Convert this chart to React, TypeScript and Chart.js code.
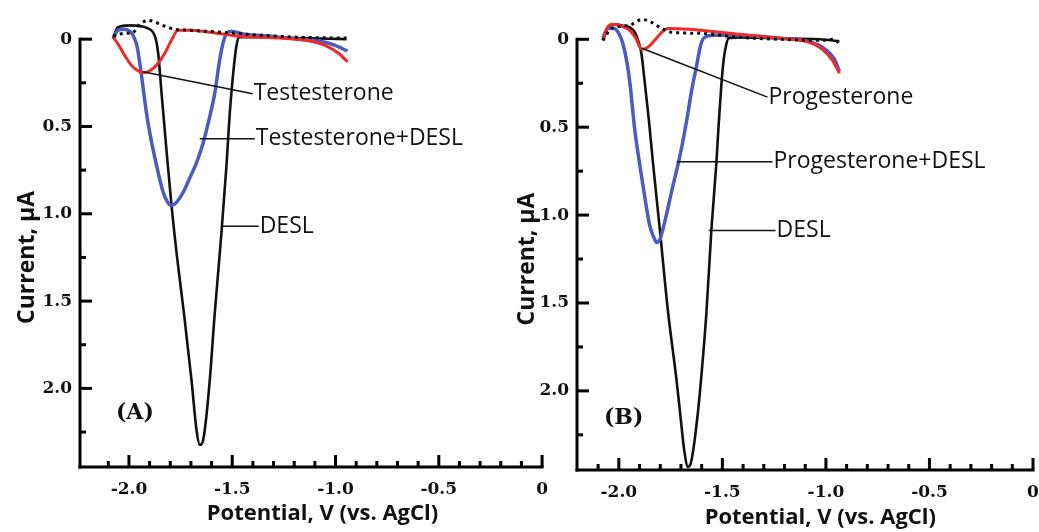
import React, { useEffect, useRef } from "react";
import { Chart, registerables } from "chart.js";
Chart.register(...registerables);

// ---------- axis ticks ----------
const X_MAJOR = [-2.0, -1.5, -1.0, -0.5, 0];
const X_MINOR = [-2.1, -1.9, -1.8, -1.7, -1.6, -1.4, -1.3, -1.2, -1.1, -0.9, -0.8, -0.7, -0.6, -0.4, -0.3, -0.2, -0.1];
const X_TICK_LABELS = ["-2.0", "-1.5", "-1.0", "-0.5", "0"];
const Y_MAJOR = [0, 0.5, 1.0, 1.5, 2.0];
const Y_MINOR = [0.25, 0.75, 1.25, 1.75, 2.25];
const Y_TICK_LABELS = ["0", "0.5", "1.0", "1.5", "2.0"];

// ---------- Panel A ----------
const A_BLANK_V = [-2.077, -2.019, -1.986, -1.947, -1.908, -1.870, -1.826, -1.778, -1.705, -1.560, -1.367, -1.174, -0.947];
const A_BLANK_I = [-0.017, -0.034, -0.034, -0.085, -0.108, -0.096, -0.074, -0.057, -0.051, -0.040, -0.023, -0.011, -0.006];

const A_TES_V = [-2.077, -2.053, -2.019, -1.986, -1.957, -1.932, -1.899, -1.865, -1.826, -1.792, -1.763, -1.705, -1.609, -1.464, -1.271, -1.126, -1.043, -0.981, -0.942];
const A_TES_I = [-0.011, 0.028, 0.096, 0.153, 0.181, 0.193, 0.181, 0.147, 0.079, 0.0, -0.051, -0.051, -0.040, -0.017, -0.006, 0.011, 0.040, 0.085, 0.130];

const A_MIX_V = [-2.077, -2.053, -2.024, -1.995, -1.976, -1.961, -1.947, -1.931, -1.915, -1.899, -1.866, -1.834, -1.812, -1.792, -1.768, -1.738, -1.705, -1.673, -1.641, -1.609, -1.585, -1.560, -1.541, -1.527, -1.507, -1.440, -1.319, -1.174, -1.077, -1.005, -0.942];
const A_MIX_I = [0.0, -0.051, -0.057, -0.045, -0.011, 0.040, 0.142, 0.283, 0.425, 0.538, 0.725, 0.878, 0.935, 0.952, 0.932, 0.878, 0.793, 0.708, 0.595, 0.444, 0.312, 0.113, 0.006, -0.034, -0.045, -0.028, -0.017, 0.0, 0.011, 0.034, 0.068];

const A_DESL_V = [-2.077, -2.053, -1.995, -1.908, -1.884, -1.870, -1.858, -1.842, -1.818, -1.794, -1.766, -1.733, -1.697, -1.673, -1.657, -1.645, -1.633, -1.609, -1.585, -1.552, -1.528, -1.520, -1.512, -1.500, -1.488, -1.478, -1.469, -1.367, -1.174, -0.947];
const A_DESL_I = [-0.011, -0.068, -0.079, -0.062, -0.040, 0.0, 0.085, 0.312, 0.640, 0.952, 1.260, 1.577, 1.955, 2.238, 2.323, 2.312, 2.238, 1.955, 1.575, 1.105, 0.725, 0.572, 0.425, 0.255, 0.113, 0.028, -0.011, -0.011, -0.006, 0.0];

// ---------- Panel B ----------
const B_BLANK_V = [-2.077, -2.034, -1.986, -1.937, -1.889, -1.851, -1.802, -1.745, -1.610, -1.417, -1.224, -1.031, -0.959, -0.935];
const B_BLANK_I = [0.006, -0.062, -0.074, -0.085, -0.113, -0.102, -0.068, -0.040, -0.034, -0.011, 0.0, 0.006, 0.0, 0.028];

const B_PRO_V = [-2.077, -2.058, -2.029, -1.986, -1.947, -1.918, -1.889, -1.860, -1.827, -1.793, -1.764, -1.658, -1.513, -1.320, -1.176, -1.080, -1.017, -0.969, -0.935];
const B_PRO_I = [0.006, -0.062, -0.085, -0.074, -0.051, -0.006, 0.057, 0.045, 0.006, -0.040, -0.062, -0.057, -0.040, -0.017, 0.0, 0.017, 0.057, 0.119, 0.193];

const B_MIX_V = [-2.077, -2.053, -2.024, -2.0, -1.981, -1.961, -1.947, -1.923, -1.904, -1.884, -1.851, -1.831, -1.817, -1.802, -1.778, -1.740, -1.706, -1.672, -1.648, -1.624, -1.605, -1.586, -1.537, -1.417, -1.224, -1.104, -1.017, -0.959, -0.935];
const B_MIX_I = [-0.006, -0.062, -0.062, -0.034, 0.023, 0.130, 0.244, 0.516, 0.674, 0.827, 1.059, 1.127, 1.156, 1.139, 1.037, 0.839, 0.669, 0.459, 0.289, 0.147, 0.034, -0.011, -0.023, -0.023, -0.006, 0.006, 0.045, 0.113, 0.181];

const B_DESL_V = [-2.077, -2.053, -2.019, -1.986, -1.947, -1.923, -1.904, -1.891, -1.875, -1.855, -1.835, -1.802, -1.762, -1.722, -1.701, -1.684, -1.666, -1.653, -1.642, -1.627, -1.610, -1.577, -1.553, -1.529, -1.518, -1.505, -1.494, -1.482, -1.470, -1.417, -1.224, -1.031, -0.935];
const B_DESL_I = [0.006, -0.068, -0.085, -0.079, -0.068, -0.040, 0.017, 0.081, 0.242, 0.459, 0.704, 1.082, 1.554, 1.932, 2.159, 2.340, 2.432, 2.414, 2.347, 2.215, 2.027, 1.554, 1.082, 0.704, 0.487, 0.261, 0.119, 0.034, -0.006, -0.011, -0.006, 0.0, 0.011];

const BLACK = "#111111";
const RED = "#ee2a2a";
const BLUE = "#4b5cbd";

const pts = (xs: number[], ys: number[]) => xs.map((x, i) => ({ x, y: ys[i] }));

const axesPlugin = {
  id: "customAxes",
  afterDraw(chart: any) {
    const opts = chart.options.plugins.customAxes;
    const ctx: CanvasRenderingContext2D = chart.ctx;
    const xs = chart.scales.x;
    const ys = chart.scales.y;
    const ca = chart.chartArea;
    const L = ca.left;
    const B = ca.bottom;
    ctx.save();
    ctx.fillStyle = "#000000";
    const y0 = ys.getPixelForValue(0);
    const xEnd = xs.getPixelForValue(0);
    // axis lines
    ctx.fillRect(L - 1.5, y0 - 1.5, 3, B - y0 + 3);
    ctx.fillRect(L - 1.5, B - 1.5, xEnd - L + 3, 3);
    // ticks (pointing into the plot)
    Y_MAJOR.forEach((v) => { const p = ys.getPixelForValue(v); ctx.fillRect(L, p - 1.5, 12, 3); });
    Y_MINOR.forEach((v) => { const p = ys.getPixelForValue(v); ctx.fillRect(L, p - 1.5, 6, 3); });
    X_MAJOR.forEach((v) => { const p = xs.getPixelForValue(v); ctx.fillRect(p - 1.5, B - 12, 3, 12); });
    X_MINOR.forEach((v) => { const p = xs.getPixelForValue(v); ctx.fillRect(p - 1.5, B - 6, 3, 6); });

    // axis titles
    ctx.fillStyle = "#111111";
    ctx.strokeStyle = "#111111";
    ctx.font = "bold 22px 'Open Sans'";
    ctx.textAlign = "center";
    ctx.textBaseline = "middle";
    ctx.fillText(opts.xTitle, xs.getPixelForValue(opts.xTitleAt), B + opts.xTitleOffset);
    ctx.save();
    ctx.translate(opts.yTitleX, ys.getPixelForValue(opts.yTitleAt));
    ctx.rotate(-Math.PI / 2);
    ctx.font = "bold 23px 'Open Sans'";
    ctx.fillText(opts.yTitle, 0, 0);
    ctx.restore();

    // leader lines and labels
    ctx.lineWidth = 1.5;
    ctx.textAlign = "left";
    (opts.notes || []).forEach((n: any) => {
      const tx = xs.getPixelForValue(n.x);
      const ty = ys.getPixelForValue(n.y);
      if (n.from) {
        ctx.beginPath();
        ctx.moveTo(xs.getPixelForValue(n.from[0]), ys.getPixelForValue(n.from[1]));
        ctx.lineTo(tx, ty);
        ctx.stroke();
      }
      ctx.font = n.font;
      ctx.fillText(n.text, tx + 1, ty);
    });
    ctx.restore();
  },
};

type PanelProps = {
  left: number;
  width: number;
  padTop: number;
  padRight: number;
  yWidth: number;
  xHeight: number;
  xMin: number;
  series: { v: number[]; i: number[]; color: string; width: number; dash?: number[] }[];
  notes: any[];
  xTitleAt: number;
  xTitleOffset: number;
};

function Panel(p: PanelProps) {
  const ref = useRef<HTMLCanvasElement>(null);
  useEffect(() => {
    if (!ref.current) return;
    const chart = new Chart(ref.current, {
      type: "scatter",
      data: {
        datasets: p.series.map((s) => ({
          data: pts(s.v, s.i),
          showLine: true,
          borderColor: s.color,
          backgroundColor: s.color,
          borderWidth: s.width,
          borderDash: s.dash || [],
          pointRadius: 0,
          cubicInterpolationMode: "monotone",
          clip: false,
        })),
      },
      options: {
        responsive: false,
        animation: false,
        devicePixelRatio: 1,
        layout: { padding: { left: 0, top: p.padTop, right: p.padRight, bottom: 0 } },
        plugins: {
          legend: { display: false },
          tooltip: { enabled: false },
          customAxes: {
            xTitle: "Potential, V (vs. AgCl)",
            yTitle: "Current, \u03BCA",
            xTitleAt: p.xTitleAt,
            xTitleOffset: p.xTitleOffset,
            yTitleAt: 1.25,
            yTitleX: 27,
            notes: p.notes,
          },
        } as any,
        scales: {
          x: {
            type: "linear",
            min: p.xMin,
            max: 0,
            grid: { display: false, drawTicks: false },
            border: { display: false },
            afterBuildTicks: (s: any) => { s.ticks = X_MAJOR.map((v) => ({ value: v })); },
            afterFit: (s: any) => { s.height = p.xHeight; },
            ticks: {
              padding: 12,
              color: "#111",
              font: { family: "'DejaVu Serif'", weight: "bold", size: 17 },
              callback: (v: any) => { const k = X_MAJOR.indexOf(Number(v)); return k >= 0 ? X_TICK_LABELS[k] : ""; },
              maxRotation: 0,
            },
          },
          y: {
            type: "linear",
            reverse: true,
            min: -0.12,
            max: 2.45,
            grid: { display: false, drawTicks: false },
            border: { display: false },
            afterBuildTicks: (s: any) => { s.ticks = Y_MAJOR.map((v) => ({ value: v })); },
            afterFit: (s: any) => { s.width = p.yWidth; },
            ticks: {
              padding: 8,
              color: "#111",
              font: { family: "'DejaVu Serif'", weight: "bold", size: 17 },
              callback: (v: any) => { const k = Y_MAJOR.indexOf(Number(v)); return k >= 0 ? Y_TICK_LABELS[k] : ""; },
            },
          },
        },
      } as any,
      plugins: [axesPlugin],
    });
    return () => chart.destroy();
  }, []);
  return (
    <canvas
      ref={ref}
      width={p.width}
      height={532}
      style={{ position: "absolute", left: p.left, top: 0, width: p.width, height: 532 }}
    />
  );
}

const LABEL_FONT = "23px 'Open Sans'";
const LETTER_FONT = "bold 22px 'DejaVu Serif'";

export default function App() {
  const seriesA = [
    { v: A_BLANK_V, i: A_BLANK_I, color: BLACK, width: 3, dash: [3, 4] },
    { v: A_TES_V, i: A_TES_I, color: RED, width: 3 },
    { v: A_MIX_V, i: A_MIX_I, color: BLUE, width: 3.5 },
    { v: A_DESL_V, i: A_DESL_I, color: BLACK, width: 2.6 },
  ];
  const seriesB = [
    { v: B_BLANK_V, i: B_BLANK_I, color: BLACK, width: 3, dash: [3, 4] },
    { v: B_PRO_V, i: B_PRO_I, color: RED, width: 3 },
    { v: B_MIX_V, i: B_MIX_I, color: BLUE, width: 3.5 },
    { v: B_DESL_V, i: B_DESL_I, color: BLACK, width: 2.6 },
  ];
  const notesA = [
    { text: "Testesterone", x: -1.401, y: 0.312, from: [-1.932, 0.187], font: LABEL_FONT },
    { text: "Testesterone+DESL", x: -1.391, y: 0.57, from: [-1.657, 0.57], font: LABEL_FONT },
    { text: "DESL", x: -1.372, y: 1.071, from: [-1.551, 1.071], font: LABEL_FONT },
    { text: "(A)", x: -2.068, y: 2.142, font: LETTER_FONT },
  ];
  const notesB = [
    { text: "Progesterone", x: -1.282, y: 0.329, from: [-1.889, 0.051], font: LABEL_FONT },
    { text: "Progesterone+DESL", x: -1.258, y: 0.697, from: [-1.72, 0.697], font: LABEL_FONT },
    { text: "DESL", x: -1.243, y: 1.088, from: [-1.566, 1.088], font: LABEL_FONT },
    { text: "(B)", x: -2.077, y: 2.156, font: LETTER_FONT },
  ];
  return (
    <div style={{ position: "absolute", left: 0, top: 0, width: 1039, height: 532, background: "#fff", overflow: "hidden" }}>
      <Panel left={0} width={560} padTop={14} padRight={17} yWidth={80} xHeight={65} xMin={-2.237}
        series={seriesA} notes={notesA} xTitleAt={-1.063} xTitleOffset={47} />
      <Panel left={500} width={560} padTop={18} padRight={27} yWidth={77} xHeight={62} xMin={-2.202}
        series={seriesB} notes={notesB} xTitleAt={-1.027} xTitleOffset={48} />
    </div>
  );
}
